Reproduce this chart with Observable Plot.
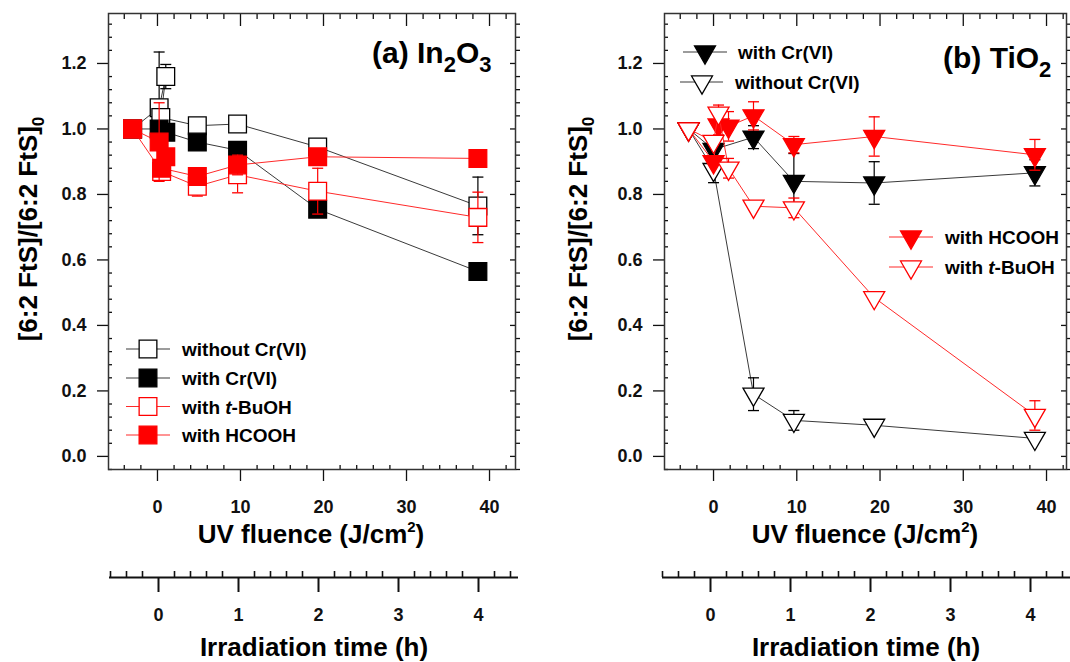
<!DOCTYPE html>
<html><head><meta charset="utf-8">
<script src="https://cdn.jsdelivr.net/npm/d3@7"></script>
<script src="https://cdn.jsdelivr.net/npm/@observablehq/plot@0.6"></script>
<style>
body{margin:0;background:#fff;}
#wrap{position:relative;width:1070px;height:662px;overflow:hidden;background:#fff;}
.pl{position:absolute;width:535px;}
</style></head><body><div id="wrap"></div>
<script>
// ---------------- DATA ----------------
// Panel (a) In2O3 : x = UV fluence (J/cm2), y = [6:2 FtS]/[6:2 FtS]0, e = error
const aWithoutX = [-3, 0.2, 1.0, 0.4, 4.8, 9.65, 19.3, 38.6];
const aWithoutY = [1.0, 1.065, 1.16, 1.035, 1.01, 1.015, 0.945, 0.765];
const aWithoutE = [0, 0.17, 0.037, 0, 0, 0, 0, 0.088];
const aCrX = [-3, 0.2, 1.0, 4.8, 9.65, 19.3, 38.6];
const aCrY = [1.0, 1.0, 0.99, 0.96, 0.935, 0.755, 0.565];
const aCrE = [0, 0, 0, 0, 0, 0.015, 0];
const aTbuX = [-3, 0.5, 4.8, 9.65, 19.3, 38.6];
const aTbuY = [1.0, 0.87, 0.825, 0.86, 0.81, 0.73];
const aTbuE = [0, 0, 0.03, 0.055, 0.07, 0.077];
const aHcX = [-3, 0.2, 1.0, 0.5, 4.8, 9.65, 19.3, 38.6];
const aHcY = [1.0, 0.96, 0.915, 0.88, 0.855, 0.89, 0.915, 0.91];
const aHcE = [0, 0.12, 0, 0, 0.02, 0.03, 0, 0];

// Panel (b) TiO2
const bCrX = [-3, 0, 4.8, 9.65, 19.3, 38.6];
const bCrY = [1.0, 0.937, 0.975, 0.84, 0.835, 0.866];
const bCrE = [0, 0.02, 0.035, 0.085, 0.065, 0.04];
const bWithoutX = [-3, 0, 4.8, 9.65, 19.3, 38.6];
const bWithoutY = [1.0, 0.876, 0.19, 0.11, 0.095, 0.055];
const bWithoutE = [0, 0.04, 0.05, 0.03, 0, 0];
const bHcX = [-3, 0, 0.6, 1.8, 4.8, 9.65, 19.3, 38.6];
const bHcY = [1.0, 0.9, 1.012, 1.008, 1.04, 0.952, 0.977, 0.921];
const bHcE = [0, 0, 0.03, 0.045, 0.043, 0.025, 0.06, 0.047];
const bTbuX = [-3, 0, 0.6, 1.8, 4.8, 9.65, 19.3, 38.6];
const bTbuY = [1.0, 0.962, 1.048, 0.88, 0.764, 0.759, 0.485, 0.125];
const bTbuE = [0, 0, 0.025, 0.03, 0, 0.03, 0, 0.045];

// Ticks
const xMajorTicks = [0, 10, 20, 30, 40];
const yMajorTicks = [0, 0.2, 0.4, 0.6, 0.8, 1.0, 1.2];
const timeMajorTicks = [0, 1, 2, 3, 4];
const xMinorTicks = d3.range(-4, 43, 2).filter(v => v % 10 !== 0);
const yMinorTicks = d3.range(-1, 34).map(i => +(i * 0.04).toFixed(2)).filter(v => Math.abs(v * 5 - Math.round(v * 5)) > 1e-6);
const timeMinorTicks = d3.range(-3, 23).map(i => +(i * 0.2).toFixed(1)).filter(v => Math.abs(v - Math.round(v)) > 1e-6);

// ---------------- STYLE ----------------
const FONT = '"Liberation Sans", Arial, Helvetica, sans-serif';
const RED = "#ff0000", BLACK = "#000000";
const RED_LINE = "#ff2a2a", BLACK_LINE = "#3a3a3a";
const rows = (xs, ys, es) => xs.map((x, i) => ({x, y: ys[i], e: es[i]}));
const capSymbol = {draw(ctx, size) { const r = Math.sqrt(size / Math.PI); ctx.moveTo(-r, 0); ctx.lineTo(r, 0); }};
const baseStyle = {fontFamily: FONT, fontWeight: "bold", fontSize: "18px", color: "#111", background: "transparent"};

function seriesMarks(s, shape) {
  const errs = s.rows.filter(d => d.e > 0);
  const tri = shape === "tri";
  return [
    Plot.line(s.rows, {x: "x", y: "y", stroke: s.lineColor, strokeWidth: 1}),
    Plot.ruleX(errs, {x: "x", y1: d => d.y - d.e, y2: d => d.y + d.e, stroke: s.color, strokeWidth: 1.2}),
    Plot.dot(errs, {x: "x", y: d => d.y + d.e, symbol: capSymbol, r: 5.5, fill: "none", stroke: s.color, strokeWidth: 1.3}),
    Plot.dot(errs, {x: "x", y: d => d.y - d.e, symbol: capSymbol, r: 5.5, fill: "none", stroke: s.color, strokeWidth: 1.3}),
    Plot.dot(s.rows, {x: "x", y: "y", symbol: tri ? "triangle" : "square", rotate: tri ? 180 : 0,
      r: tri ? 7.8 : 10, fill: s.filled ? s.color : "white", stroke: s.color, strokeWidth: 1.3})
  ];
}

function mainPlot(p) {
  const blank = () => "";
  return Plot.plot({
    width: 535, height: 555,
    marginLeft: p.ml, marginRight: p.mr, marginTop: 13, marginBottom: 86,
    x: {domain: p.xd}, y: {domain: [-0.04, 1.3526]},
    style: baseStyle,
    marks: [
      Plot.axisY({anchor: "left", ticks: yMajorTicks, tickSize: 11, tickPadding: 11, tickFormat: d3.format(".1f"), label: null, strokeWidth: 1.3}),
      Plot.axisY({anchor: "left", ticks: yMinorTicks, tickSize: -4, tickFormat: blank, label: null, strokeWidth: 1.3}),
      Plot.axisY({anchor: "right", ticks: yMajorTicks, tickSize: -6, tickFormat: blank, label: null, strokeWidth: 1.3}),
      Plot.axisY({anchor: "right", ticks: yMinorTicks, tickSize: 4, tickFormat: blank, label: null, strokeWidth: 1.3}),
      Plot.axisX({anchor: "bottom", ticks: xMajorTicks, tickSize: 12, tickPadding: 19, tickFormat: d => String(d), label: null, strokeWidth: 1.3}),
      Plot.axisX({anchor: "bottom", ticks: xMinorTicks, tickSize: -4, tickFormat: blank, label: null, strokeWidth: 1.3}),
      Plot.axisX({anchor: "top", ticks: xMajorTicks, tickSize: -12, tickFormat: blank, label: null, strokeWidth: 1.3}),
      Plot.axisX({anchor: "top", ticks: xMinorTicks, tickSize: -5, tickFormat: blank, label: null, strokeWidth: 1.3}),
      Plot.frame({stroke: "#333", strokeWidth: 1.5}),
      ...p.series.flatMap(s => seriesMarks(s, p.shape))
    ]
  });
}

function timePlot(p) {
  return Plot.plot({
    width: 535, height: 107,
    marginLeft: p.ml, marginRight: p.mr, marginTop: 16, marginBottom: 85,
    x: {domain: p.td}, y: {domain: [0, 1], axis: null},
    style: baseStyle,
    marks: [
      Plot.ruleY([0], {stroke: "#111", strokeWidth: 2}),
      Plot.tickX(timeMinorTicks, {x: d => d, stroke: "#111", strokeWidth: 1.6}),
      Plot.axisX({anchor: "bottom", ticks: timeMajorTicks, tickSize: 15, tickPadding: 16, tickFormat: d => String(d), label: null, strokeWidth: 2})
    ]
  });
}

const wrap = document.getElementById("wrap");
function place(node, left, top) {
  const d = document.createElement("div");
  d.className = "pl"; d.style.left = left + "px"; d.style.top = top + "px";
  d.appendChild(node); wrap.appendChild(d);
}

const seriesA = [
  {rows: rows(aWithoutX, aWithoutY, aWithoutE), color: BLACK, lineColor: BLACK_LINE, filled: false},
  {rows: rows(aCrX, aCrY, aCrE), color: BLACK, lineColor: BLACK_LINE, filled: true},
  {rows: rows(aTbuX, aTbuY, aTbuE), color: RED, lineColor: RED_LINE, filled: false},
  {rows: rows(aHcX, aHcY, aHcE), color: RED, lineColor: RED_LINE, filled: true}
];
const seriesB = [
  {rows: rows(bWithoutX, bWithoutY, bWithoutE), color: BLACK, lineColor: BLACK_LINE, filled: false},
  {rows: rows(bCrX, bCrY, bCrE), color: BLACK, lineColor: BLACK_LINE, filled: true},
  {rows: rows(bHcX, bHcY, bHcE), color: RED, lineColor: RED_LINE, filled: true},
  {rows: rows(bTbuX, bTbuY, bTbuE), color: RED, lineColor: RED_LINE, filled: false}
];

place(mainPlot({ml: 108, mr: 20, xd: [-5.9, 43.13], series: seriesA, shape: "sq"}), 0, 0);
place(mainPlot({ml: 129, mr: 4, xd: [-5.89, 42.4], series: seriesB, shape: "tri"}), 535, 0);
place(timePlot({ml: 109, mr: 17, td: [-0.6125, 4.5]}), 0, 555);
place(timePlot({ml: 127, mr: 0, td: [-0.6, 4.5]}), 535, 555);

// ---------------- OVERLAY TEXT / LEGENDS ----------------
const ov = d3.select(wrap).append("svg")
  .attr("width", 1070).attr("height", 662)
  .style("position", "absolute").style("left", "0px").style("top", "0px")
  .style("pointer-events", "none")
  .attr("font-family", FONT).attr("font-weight", "bold").attr("fill", "#000");

function xTitle(cx, y) {
  const t = ov.append("text").attr("x", cx).attr("y", y).attr("text-anchor", "middle").attr("font-size", 26);
  t.append("tspan").text("UV fluence (J/cm");
  t.append("tspan").attr("dy", -11).attr("font-size", 15).text("2");
  t.append("tspan").attr("dy", 11).text(")");
}
function tTitle(cx, y) {
  ov.append("text").attr("x", cx).attr("y", y).attr("text-anchor", "middle").attr("font-size", 26).text("Irradiation time (h)");
}
function yTitle(bx, cy) {
  const t = ov.append("text").attr("transform", `translate(${bx},${cy}) rotate(-90)`).attr("text-anchor", "middle").attr("font-size", 26);
  t.append("tspan").text("[6:2 FtS]/[6:2 FtS]");
  t.append("tspan").attr("dy", 7).attr("font-size", 17).text("0");
}
function panelTitle(x, y, parts) {
  const t = ov.append("text").attr("x", x).attr("y", y).attr("font-size", 30);
  let shifted = false;
  parts.forEach(([s, sub]) => {
    const ts = t.append("tspan").text(s);
    if (sub && !shifted) { ts.attr("dy", 9).attr("font-size", 22); shifted = true; }
    else if (!sub && shifted) { ts.attr("dy", -9); shifted = false; }
  });
}
function legendRow(o) {
  ov.append("line").attr("x1", o.x1).attr("x2", o.x2).attr("y1", o.y).attr("y2", o.y).attr("stroke", o.lineColor).attr("stroke-width", 1.2);
  const sym = o.shape === "tri" ? d3.symbol(d3.symbolTriangle, 190) : d3.symbol(d3.symbolSquare, 314);
  ov.append("path").attr("d", sym()).attr("transform", `translate(${o.mx},${o.y}) rotate(${o.shape === "tri" ? 180 : 0})`)
    .attr("fill", o.filled ? o.color : "white").attr("stroke", o.color).attr("stroke-width", 1.3);
  const t = ov.append("text").attr("x", o.tx).attr("y", o.y + 7).attr("font-size", 19);
  o.parts.forEach(([s, it]) => { const ts = t.append("tspan").text(s); if (it) ts.attr("font-style", "italic"); });
}

xTitle(311, 543); xTitle(865, 543);
tTitle(314, 656); tTitle(866, 656);
yTitle(37, 229); yTitle(587, 229);
panelTitle(372, 63, [["(a) In"], ["2", true], ["O"], ["3", true]]);
panelTitle(943, 68, [["(b) TiO"], ["2", true]]);

const legA = [
  {parts: [["without Cr(VI)"]], color: BLACK, lineColor: BLACK_LINE, filled: false},
  {parts: [["with Cr(VI)"]], color: BLACK, lineColor: BLACK_LINE, filled: true},
  {parts: [["with "], ["t", true], ["-BuOH"]], color: RED, lineColor: RED_LINE, filled: false},
  {parts: [["with HCOOH"]], color: RED, lineColor: RED_LINE, filled: true}
];
const legAy = [349, 378, 406.5, 435];
legA.forEach((l, i) => legendRow({...l, shape: "sq", x1: 126, x2: 170, mx: 148, tx: 182, y: legAy[i]}));

legendRow({parts: [["with Cr(VI)"]], color: BLACK, lineColor: BLACK_LINE, filled: true, shape: "tri", x1: 683, x2: 727, mx: 705, tx: 738, y: 52});
legendRow({parts: [["without Cr(VI)"]], color: BLACK, lineColor: BLACK_LINE, filled: false, shape: "tri", x1: 680, x2: 723, mx: 702, tx: 735, y: 82});
legendRow({parts: [["with HCOOH"]], color: RED, lineColor: RED_LINE, filled: true, shape: "tri", x1: 889, x2: 933, mx: 911, tx: 945, y: 237});
legendRow({parts: [["with "], ["t", true], ["-BuOH"]], color: RED, lineColor: RED_LINE, filled: false, shape: "tri", x1: 889, x2: 933, mx: 911, tx: 945, y: 267});
</script></body></html>
